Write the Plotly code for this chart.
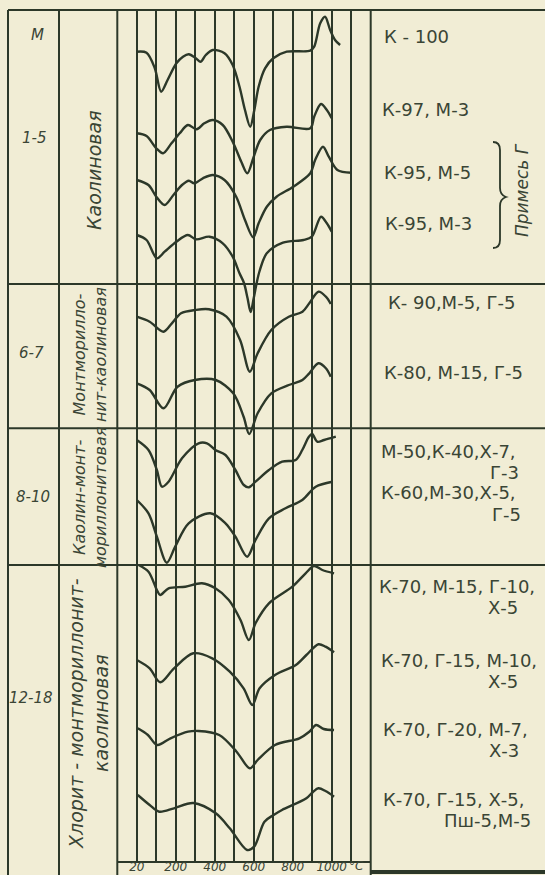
import plotly.graph_objects as go

W, H = 545, 875
BG = "#f1edd5"
INK = "#2c3829"
TXT = "#3a4535"

# ---------------- data ----------------
group_codes = ["1-5", "6-7", "8-10", "12-18"]
group_types = ["Каолиновая",
               "Монтморилло-<br>нит-каолиновая",
               "Каолин-монт-<br>мориллонитовая",
               "Хлорит - монтмориллонит-<br>каолиновая"]
tick_vals = [0, 200, 400, 600, 800, 1000]
tick_text = ["20", "200", "400", "600", "800", "1000"]
temp_unit = "°C"

# DTA curves: temperature (°C grid units) and ordinate (downward, chart units)
t1 = [0, 50, 92, 125, 158, 203, 237, 267, 303, 328, 354, 390, 450, 492, 527, 555, 582, 603, 625, 658, 700, 769, 890, 910, 941, 966, 992, 1017, 1043]
y1 = [51.7, 52.7, 68, 91.7, 80, 63.3, 56.7, 54.3, 58.3, 61.7, 55, 50, 53.3, 65, 86.7, 110, 126.7, 110, 86.7, 68.3, 58.3, 51.7, 50.7, 46.7, 23.3, 16.7, 30, 40, 45]

t2 = [0, 50, 100, 135, 178, 220, 262, 307, 346, 390, 441, 492, 536, 567, 600, 633, 683, 769, 890, 910, 945, 975, 1000]
y2 = [133.3, 136, 148.3, 153.3, 143.3, 133.3, 125, 129.3, 123.3, 120, 125, 141.7, 161.7, 173.3, 156.7, 140, 130, 126.7, 128.3, 116.7, 104, 110, 118.3]

t3 = [0, 60, 100, 143, 188, 232, 267, 295, 339, 390, 450, 510, 555, 597, 625, 667, 717, 803, 890, 915, 955, 985, 1029, 1100]
y3 = [180, 185, 196.7, 205, 195, 185, 180.7, 183.3, 178.3, 175, 180, 196.7, 220, 237.3, 223.3, 206.7, 196.7, 186.7, 173.3, 160, 146.7, 156.7, 170, 172.7]

t4 = [0, 50, 103, 143, 203, 262, 304, 373, 441, 492, 527, 550, 568, 584, 600, 615, 630, 667, 750, 855, 898, 945, 975, 1000]
y4 = [235, 240, 258.3, 251.7, 241.7, 235, 239.3, 236.7, 243.3, 256.7, 273.3, 283, 298, 312, 298, 283, 271, 253.3, 242.7, 240, 236.7, 216.7, 223.3, 231.7]

t5 = [0, 66, 137, 180, 227, 300, 370, 460, 530, 580, 620, 690, 780, 850, 885, 932, 970, 995]
y5 = [316.7, 321.7, 331.7, 323.3, 313.3, 310, 309.3, 316.7, 340, 371.7, 353.3, 330, 316.7, 311.7, 303.3, 291.7, 296.7, 304]

t6 = [0, 66, 137, 209, 298, 405, 495, 548, 577, 620, 690, 780, 850, 885, 932, 970, 995]
y6 = [383.3, 390, 408.3, 386.7, 380, 380, 393.3, 416.7, 434, 413.3, 393.3, 385, 380, 373.3, 363.3, 368.3, 376.7]

t7 = [0, 60, 103, 129, 163, 232, 317, 360, 403, 455, 506, 549, 575, 609, 678, 746, 815, 849, 883, 900, 926, 961, 1021]
y7 = [440, 450, 470, 486.7, 481.7, 458.3, 443.3, 443.3, 450, 455, 470, 485, 487.3, 481.7, 470, 461.7, 460, 450, 436.7, 434, 441.7, 440, 436.7]

t8 = [0, 60, 103, 154, 197, 266, 377, 455, 506, 566, 609, 678, 763, 849, 918, 1003]
y8 = [500, 513.3, 536.7, 562.7, 546.7, 523.3, 513.3, 523.3, 536.7, 556.7, 540, 518.3, 508.3, 500, 486.7, 481.7]

t9 = [9, 60, 103, 120, 163, 249, 334, 403, 472, 532, 575, 609, 678, 798, 866, 909, 952, 1012]
y9 = [565, 571.7, 590, 595, 588.3, 586.7, 583.3, 588.3, 600, 620, 640, 623.3, 603.3, 586.7, 573.3, 566, 570, 573.3]

t10 = [0, 66, 120, 191, 290, 387, 477, 548, 593, 630, 709, 816, 870, 932, 968, 1012]
y10 = [660, 668.3, 682.3, 668.3, 653.3, 658.3, 671.7, 688.3, 705, 688.3, 675, 665, 655, 644.3, 646.7, 652.3]

t11 = [5, 57, 105, 173, 263, 316, 423, 512, 580, 620, 709, 834, 885, 920, 959, 1012]
y11 = [728.3, 735, 745, 738.3, 731.7, 731, 735, 751.7, 768.3, 760, 745, 738.3, 731.7, 725, 729, 730]

t12 = [5, 66, 115, 191, 290, 405, 477, 566, 602, 655, 702, 745, 870, 905, 932, 968, 1012]
y12 = [795, 805, 811.7, 808.3, 803, 813.3, 828.3, 850, 846.7, 821.7, 815, 810, 798.3, 791.7, 788.3, 791, 796.7]

curves_t = [t1, t2, t3, t4, t5, t6, t7, t8, t9, t10, t11, t12]
curves_y = [y1, y2, y3, y4, y5, y6, y7, y8, y9, y10, y11, y12]

sample_lines = ["К - 100", "К-97, М-3", "К-95, М-5", "К-95, М-3",
                "К- 90,М-5, Г-5", "К-80, М-15, Г-5",
                "М-50,К-40,Х-7,", "Г-3", "К-60,М-30,Х-5,", "Г-5",
                "К-70, М-15, Г-10,", "Х-5", "К-70, Г-15, М-10,", "Х-5",
                "К-70, Г-20, М-7,", "Х-3", "К-70, Г-15, Х-5,", "Пш-5,М-5"]
impurity_note = "Примесь Г"
code_header = "М"

# ---------------- helpers (pixel -> paper) ----------------
def X(p):
    return p / W

def Y(p):
    return 1 - p / H

fig = go.Figure()
for tt, yy in zip(curves_t, curves_y):
    fig.add_trace(go.Scatter(x=tt, y=yy, mode="lines",
                             line=dict(color=INK, width=2.4, shape="spline", smoothing=0.9),
                             hoverinfo="skip", showlegend=False))

fig.update_layout(
    width=W, height=H,
    margin=dict(l=0, r=0, t=0, b=0),
    paper_bgcolor=BG, plot_bgcolor=BG,
    showlegend=False,
    xaxis=dict(domain=[X(117.3), X(370.7)], range=[-100, 1200],
               tickvals=tick_vals, ticktext=tick_text, ticks="", tickangle=0,
               ticklabelstandoff=-6,
               showgrid=True, gridcolor=INK, gridwidth=1.6,
               minor=dict(dtick=100, tick0=0, showgrid=True, gridcolor=INK, gridwidth=1.6),
               zeroline=False, showline=True, linecolor=INK, linewidth=2,
               tickfont=dict(family="DejaVu Sans", size=12, color=TXT, style="italic"),
               automargin=False, fixedrange=True),
    yaxis=dict(domain=[Y(861), Y(10)], range=[861, 10], visible=False,
               showgrid=False, zeroline=False, fixedrange=True),
)

shapes = []
def hline(py, x0, x1, w=2):
    shapes.append(dict(type="line", xref="paper", yref="paper",
                       x0=X(x0), x1=X(x1), y0=Y(py), y1=Y(py),
                       line=dict(color=INK, width=w)))

def vline(px, y0, y1, w=2):
    shapes.append(dict(type="line", xref="paper", yref="paper",
                       x0=X(px), x1=X(px), y0=Y(y0), y1=Y(y1),
                       line=dict(color=INK, width=w)))

hline(10, 8, 545)
for sep in (284, 428.3, 565):
    hline(sep, 8, 545)
for vx in (8, 59, 117.3, 370.7):
    vline(vx, 10, 875)
hline(872, 371, 545, w=4)

# brace for impurity note
bp = [(493, 142), (500, 142), (500, 150), (500, 188), (500, 195), (506, 197),
      (500, 199), (500, 206), (500, 240), (500, 248), (493, 248)]
P = [(X(a), Y(b)) for a, b in bp]
path = ("M {0[0]},{0[1]} Q {1[0]},{1[1]} {2[0]},{2[1]} L {3[0]},{3[1]} "
        "Q {4[0]},{4[1]} {5[0]},{5[1]} Q {6[0]},{6[1]} {7[0]},{7[1]} "
        "L {8[0]},{8[1]} Q {9[0]},{9[1]} {10[0]},{10[1]}").format(*P)
shapes.append(dict(type="path", xref="paper", yref="paper", path=path,
                   line=dict(color=INK, width=1.8)))
fig.update_layout(shapes=shapes)

ann = []
def text(t, px, py, size, italic=False, angle=0, xanchor="center", family="DejaVu Sans"):
    f = dict(family=family, size=size, color=TXT)
    if italic:
        f["style"] = "italic"
    ann.append(dict(text=t, x=X(px), y=Y(py), xref="paper", yref="paper",
                    showarrow=False, textangle=angle, xanchor=xanchor,
                    yanchor="middle", font=f, align="center"))

text(code_header, 37, 35, 15, italic=True)
for code, (px, py) in zip(group_codes, [(34, 138), (31, 353), (33, 497), (31, 698)]):
    text(code, px, py, 15, italic=True)

type_pos = [(94, 170, 19), (90, 355, 16), (90, 497, 16), (88, 714, 19)]
for tname, (px, py, sz) in zip(group_types, type_pos):
    text(tname, px, py, sz, italic=True, angle=-90)

label_pos = [(382, 37, "left"), (380, 110, "left"), (382, 172, "left"), (383, 223, "left"),
             (386, 302, "left"), (382, 372, "left"),
             (379, 451, "left"), (521, 472, "right"), (379, 493, "left"), (523, 514, "right"),
             (377, 586, "left"), (520, 607, "right"), (379, 660, "left"), (520, 681, "right"),
             (381, 729, "left"), (521, 750, "right"), (381, 799, "left"), (533, 820, "right")]
for lab, (px, py, anc) in zip(sample_lines, label_pos):
    text(lab, px, py, 18, xanchor=anc)

text(impurity_note, 522, 190, 17, italic=True, angle=-90)
# temperature unit hanging after the last tick label
text(temp_unit, 347, 866, 12, italic=True, xanchor="left")
fig.update_layout(annotations=ann)

fig.write_html("out.html", config={"displayModeBar": False}, post_script=(
    "document.documentElement.style.margin='0';document.body.style.margin='0';"
    "document.body.style.padding='0';document.documentElement.style.overflow='hidden';"
    "document.body.style.overflow='hidden';"))
